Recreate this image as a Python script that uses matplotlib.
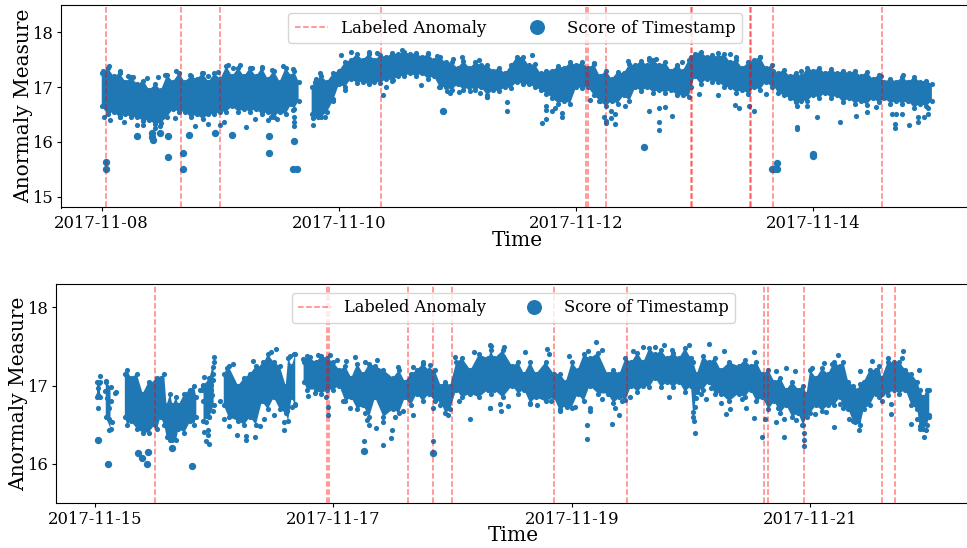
import numpy as np
import matplotlib
matplotlib.use("Agg")
import matplotlib.pyplot as plt
import matplotlib.dates as mdates
from matplotlib.lines import Line2D

# Times are days after the start date of each panel. The cloud of points is too
# dense to read singly, so its core is kept as an envelope
# (inner and outer edge samples); fringe and outlier points are read one by one.
p1_start = "2017-11-08"
p2_start = "2017-11-15"
nan = float("nan")

p1_anomaly = [0.034, 0.671, 1.0, 2.352, 4.087, 4.097, 4.255, 4.966, 4.976, 5.467, 5.477, 5.66, 6.58]
p2_anomaly = [0.503, 1.95, 1.965, 2.628, 2.833, 2.998, 3.851, 4.46, 5.615, 5.646, 5.95, 6.602, 6.713]

p1_band_t = [0.0,0.1,0.2,0.3,0.4,0.5,0.6,0.7,0.8,0.9,1.0,1.1,1.2,1.3,1.4,1.5,1.6,1.66,1.72,
             1.77,1.8,1.9,2.0,2.1,2.2,2.3,2.4,2.5,2.6,2.7,2.8,2.9,3.0,3.1,3.2,3.3,3.4,3.5,3.6,3.7,3.8,3.9,
             4.0,4.1,4.2,4.3,4.4,4.5,4.6,4.7,4.8,4.9,4.97,5.0,5.1,5.2,5.3,5.4,5.5,5.6,5.66,5.7,5.8,5.9,
             6.0,6.1,6.2,6.3,6.4,6.5,6.6,6.7,6.8,6.9,7.0]
p1_band_hi = [17.25,17.2,17.1,17.05,16.95,16.95,17.1,17.1,17.15,17.1,17.15,17.2,17.2,17.2,17.15,17.1,17.2,17.1,nan,
              17.0,17.1,17.1,17.3,17.5,17.5,17.5,17.55,17.6,17.6,17.55,17.5,17.45,17.35,17.35,17.4,17.3,17.25,17.55,17.4,17.25,17.3,17.35,
              17.4,17.35,17.2,17.15,17.25,17.4,17.4,17.4,17.3,17.3,17.55,17.6,17.55,17.55,17.45,17.35,17.5,17.35,17.3,17.25,17.2,17.2,
              17.3,17.25,17.25,17.25,17.2,17.15,17.1,17.1,17.1,17.1,17.05]
p1_band_lo = [16.65,16.55,16.5,16.45,16.4,16.35,16.6,16.55,16.5,16.5,16.55,16.65,16.6,16.6,16.55,16.55,16.7,16.75,nan,
              16.5,16.5,16.55,17.05,17.15,17.1,17.1,17.15,17.2,17.25,17.25,17.2,17.0,17.05,17.0,17.0,16.95,17.0,17.1,17.05,16.95,16.8,16.75,
              17.0,17.0,16.75,16.75,16.85,17.0,17.0,16.95,16.95,16.85,17.0,17.2,17.15,17.1,17.0,16.95,17.0,17.1,17.05,16.9,16.8,16.75,
              16.85,16.9,16.85,16.8,16.75,16.8,16.8,16.75,16.75,16.7,16.75]
p1_edge_t = [0.05,0.15,0.25,0.35,0.45,0.55,0.65,0.75,0.85,0.95,1.05,1.15,1.25,1.35,1.45,1.55,1.62,1.85,1.95,2.05,2.15,2.25,2.35,2.45,2.55,2.65,2.75,2.85,2.95,
             3.05,3.15,3.25,3.35,3.45,3.55,3.65,3.75,3.85,3.95,4.05,4.15,4.25,4.35,4.45,4.55,4.65,4.75,4.85,4.95,5.05,5.15,5.25,5.35,5.45,5.55,5.65,5.75,5.85,5.95,
             6.05,6.15,6.25,6.35,6.45,6.55,6.65,6.75,6.85,6.95]
p1_edge_hi = [17.35,17.25,17.18,17.12,17.05,17.22,17.25,17.2,17.25,17.25,17.38,17.35,17.35,17.35,17.3,17.35,17.3,17.2,17.25,17.45,17.6,17.6,17.58,17.62,17.65,17.62,17.6,17.55,17.45,
              17.48,17.45,17.4,17.35,17.4,17.55,17.42,17.3,17.38,17.45,17.45,17.42,17.3,17.28,17.42,17.48,17.5,17.45,17.4,17.5,17.65,17.58,17.6,17.5,17.45,17.55,17.4,17.32,17.25,17.35,
              17.35,17.33,17.3,17.3,17.28,17.22,17.15,17.18,17.18,17.12]
p1_edge_lo = [16.5,16.45,16.45,16.38,16.32,16.45,16.55,16.45,16.42,16.5,16.55,16.55,16.55,16.5,16.45,16.5,16.6,16.45,16.75,17.0,17.08,17.05,17.08,17.12,17.2,17.2,17.15,17.0,16.95,
              16.95,16.95,16.85,16.92,16.98,17.05,17.0,16.88,16.7,16.7,16.98,16.85,16.65,16.7,16.75,16.92,16.9,16.9,16.85,16.82,17.05,17.1,17.0,16.9,16.88,16.95,17.0,16.85,16.72,16.75,
              16.8,16.8,16.72,16.7,16.68,16.72,16.7,16.7,16.62,16.65]

p1_t = [0.014,0.06,0.155,0.22,0.26,0.38,0.478,0.53,0.627,0.745,0.843,0.894,0.984,1.062,1.11,1.166,1.27,1.35,1.433,1.532,1.61,1.84,1.807,
        0.02,0.188,0.155,0.07,0.35,0.3,0.45,0.49,0.618,0.787,0.9,0.998,1.03,1.217,1.293,1.405,1.425,1.475,1.625,1.625,1.625,1.785,1.785,1.827,1.883,1.616,
        2.965,3.035,3.18,2.02,2.1,2.25,2.325,2.53,2.75,2.825,2.05,1.95,2.37,2.4,2.257,2.46,2.69,2.84,2.91,2.94,3.015,3.105,3.19,3.246,2.88,
        5.866,5.866,6.225,4.70,4.70,4.617,4.81,4.70,4.75,3.716,3.747,3.744,3.744,3.796,3.82,3.885,3.885,3.415,3.415,3.25,4.233,4.25,4.255,4.29,4.29,4.325,4.33,4.41,4.12,4.19,
        5.04,5.2,5.34,5.375,5.455,5.5,5.6,6.03,5.86,5.945,6.36,6.45,6.53,6.665,6.70,6.75,6.69,6.69,6.81,6.886,6.886,6.93,6.965,6.965,
        3.626,4.15,4.44,4.615,4.615,4.67,4.89,4.85,5.9,6.57,6.76,5.55,5.3,5.2,5.35]
p1_v = [17.3,17.38,17.3,17.21,17.18,17.16,17.19,17.23,17.29,17.22,17.26,17.21,17.27,17.4,17.35,17.4,17.35,17.36,17.32,17.38,17.33,17.26,17.15,
        16.46,16.36,16.45,16.39,16.31,16.3,16.25,16.29,16.43,16.29,16.33,16.31,16.36,16.28,16.42,16.39,16.45,16.42,16.46,16.36,16.29,16.31,16.43,16.45,16.45,16.59,
        17.51,17.55,17.49,17.59,17.65,17.65,17.62,17.67,17.62,17.57,16.95,16.78,16.85,17.0,17.07,17.13,17.04,17.01,16.92,16.89,16.91,16.92,16.9,16.82,16.57,
        16.23,16.28,16.36,16.22,16.37,16.57,16.47,16.62,16.63,16.35,16.42,16.59,16.65,16.56,16.62,16.53,16.45,16.57,16.72,16.82,16.46,16.38,16.34,16.57,16.43,16.33,16.51,16.65,16.77,16.74,
        16.88,16.85,16.68,16.62,16.65,16.56,16.87,16.46,16.65,16.66,16.48,16.54,16.63,16.51,16.51,16.5,16.33,16.25,16.31,16.37,16.46,16.45,16.51,16.62,
        17.59,17.44,17.47,17.53,17.5,17.51,17.45,17.38,17.3,17.21,17.23,17.55,17.6,17.62,17.55]
p1_big_t = [0.034,0.034,0.298,0.562,0.562,0.683,0.683,0.739,0.956,1.099,1.414,1.414,1.625,1.616,1.644,0.42,0.425,0.43,0.492,2.88,4.576,5.995,5.995,5.649,5.67,5.695,5.694]
p1_big_v = [15.64,15.5,16.11,16.11,15.73,15.8,15.5,16.13,16.16,16.12,16.11,15.8,16.02,15.5,15.5,16.16,16.08,16.03,16.17,16.57,15.91,15.77,15.74,15.5,15.5,15.5,15.61]

p2_band_t = [0.02,0.045,0.06,0.09,0.13,0.16,0.25,0.3,0.4,0.5,0.55,0.6,0.65,0.7,0.8,0.85,0.87,0.91,0.96,0.995,1.03,1.08,1.2,1.3,1.4,1.5,1.6,1.65,1.7,
             1.75,1.85,1.95,2.05,2.15,2.25,2.35,2.5,2.6,2.7,2.8,2.9,2.98,3.03,3.15,3.3,3.35,3.5,3.6,3.7,3.85,3.95,
             4.05,4.15,4.3,4.4,4.5,4.6,4.7,4.8,4.9,5.0,5.05,5.15,5.25,5.4,5.5,5.6,5.7,5.8,5.9,5.97,
             6.05,6.15,6.25,6.32,6.4,6.45,6.55,6.6,6.7,6.8,6.9,6.95,7.0]
p2_band_hi = [17.05,17.05,nan,17.05,16.98,nan,17.15,17.1,16.9,17.05,17.1,16.75,16.75,16.75,16.95,16.85,nan,17.0,17.1,17.3,nan,17.15,17.0,17.15,17.25,17.3,17.0,17.25,nan,
              17.3,17.3,17.35,17.2,17.1,17.15,17.25,17.1,17.05,17.2,17.2,17.0,17.0,17.3,17.2,17.35,17.35,17.25,17.15,17.15,17.15,17.05,
              17.2,17.35,17.15,17.15,17.3,17.3,17.4,17.35,17.35,17.35,17.15,17.3,17.2,17.25,17.25,17.15,17.05,16.95,16.95,16.9,
              17.1,17.15,17.25,17.05,16.95,17.05,17.2,17.1,17.3,17.2,17.05,16.85,16.95]
p2_band_lo = [16.85,16.85,nan,16.6,16.45,nan,16.6,16.55,16.4,16.5,16.6,16.35,16.3,16.45,16.55,16.6,nan,16.55,16.6,16.75,nan,16.75,16.55,16.6,16.8,16.85,16.65,16.85,nan,
              17.05,16.95,16.95,17.0,16.85,16.75,16.85,16.7,16.85,16.9,16.9,16.8,16.7,16.95,16.9,16.95,16.95,17.0,16.95,16.85,16.85,16.75,
              16.9,17.0,16.9,16.85,17.0,17.0,17.1,17.05,17.05,17.0,16.95,17.05,16.9,16.9,16.95,16.85,16.8,16.75,16.65,16.6,
              16.75,16.75,16.85,16.7,16.55,16.7,16.9,16.9,16.95,16.95,16.7,16.45,16.6]
p2_edge_t = [0.27,0.35,0.45,0.52,0.58,0.63,0.68,0.75,0.83,1.12,1.25,1.35,1.45,1.55,1.62,1.68,1.78,1.9,2.0,2.1,2.2,2.3,2.42,2.55,2.65,2.75,2.85,2.94,
             3.08,3.22,3.32,3.42,3.55,3.65,3.78,3.9,4.0,4.1,4.22,4.35,4.45,4.55,4.65,4.75,4.85,4.95,5.02,5.1,5.2,5.32,5.45,5.55,5.65,5.75,5.85,5.94,
             6.0,6.1,6.2,6.28,6.36,6.42,6.5,6.58,6.65,6.75,6.85,6.92,6.98]
p2_edge_hi = [17.2,17.15,17.05,17.1,17.15,16.9,16.85,16.9,17.0,17.25,17.1,17.25,17.4,17.25,17.35,17.4,17.38,17.38,17.3,17.25,17.28,17.28,17.2,17.2,17.15,17.28,17.2,17.05,
              17.35,17.4,17.45,17.45,17.3,17.3,17.3,17.15,17.3,17.4,17.42,17.2,17.35,17.42,17.48,17.45,17.42,17.48,17.3,17.38,17.35,17.3,17.33,17.3,17.2,17.1,17.05,17.0,
              17.2,17.22,17.3,17.3,17.0,17.02,17.2,17.25,17.3,17.3,17.15,16.95,16.95]
p2_edge_lo = [16.5,16.45,16.4,16.45,16.5,16.3,16.3,16.4,16.5,16.6,16.5,16.5,16.7,16.7,16.55,16.75,16.95,16.9,16.95,16.8,16.7,16.6,16.6,16.65,16.75,16.8,16.8,16.65,
              16.85,16.85,16.9,16.85,16.9,16.78,16.8,16.68,16.72,16.8,16.9,16.78,16.82,16.92,16.98,16.98,16.98,16.92,16.6,16.95,16.9,16.8,16.85,16.8,16.7,16.65,16.6,16.5,
              16.65,16.68,16.75,16.72,16.55,16.5,16.75,16.85,16.88,16.9,16.75,16.45,16.5]

p2_t = [0.03,0.042,0.022,0.022,0.022,0.084,0.092,0.098,0.115,0.117,0.117,0.14,0.13,0.168,0.18,2.26,2.833,
        0.998,0.993,0.914,0.96,0.93,0.95,0.95,0.993,0.942,0.91,0.914,0.97,0.987,0.88,0.965,0.937,0.98,0.93,0.94,0.91,0.975,0.99,0.9,0.955,
        1.082,1.127,1.188,1.267,1.342,1.267,1.384,1.42,1.504,1.586,1.586,1.608,1.65,1.678,1.16,1.105,1.328,1.412,1.477,1.518,1.634,1.67,1.049,
        1.748,1.804,1.874,1.97,2.11,2.18,2.03,1.79,1.846,1.94,1.957,1.957,2.078,2.14,2.265,2.28,2.3,2.357,2.42,2.483,2.49,2.42,2.517,2.587,2.67,2.833,2.964,3.146,3.31,3.05,2.894,
        2.265,2.363,2.54,2.67,2.75,2.81,3.02,3.18,3.31,
        3.32,3.43,3.605,3.79,3.81,3.98,4.2,4.136,4.25,4.513,4.6,4.695,4.77,4.84,4.983,5.15,5.277,5.53,5.71,5.8,5.87,6.02,6.12,6.185,6.23,6.415,6.52,6.65,6.78,6.77,6.91,
        3.31,3.41,3.4,3.465,3.65,3.71,3.83,3.9,3.96,4.03,4.15,4.15,4.13,4.13,4.337,4.4,4.36,4.42,4.25,4.485,4.82,5.03,5.025,5.017,5.03,5.04,5.05,5.087,5.13,5.165,5.25,5.296,5.33,5.43,5.464,5.53,5.55,
        5.6,5.62,5.64,5.71,5.78,5.78,5.73,5.88,5.93,5.948,5.948,5.948,6.045,6.135,6.2,6.25,6.38,6.41,6.33,6.6,6.68,6.68,6.85,6.9,6.92,6.955,6.97,7.0]
p2_v = [17.03,17.12,16.88,16.97,16.72,16.93,17.06,16.84,16.71,16.58,16.43,16.54,16.8,16.91,16.92,16.29,16.29,
        17.37,17.24,16.41,16.25,16.29,16.37,16.43,16.68,16.63,17.01,17.11,17.01,17.07,16.94,16.8,16.71,16.88,16.54,16.86,16.8,16.95,17.15,16.95,16.6,
        16.58,16.49,16.37,16.36,16.34,16.3,16.49,16.58,16.63,16.43,16.54,16.67,16.73,16.77,17.28,17.23,17.31,17.3,17.43,17.47,17.38,17.41,16.8,
        17.34,17.37,17.39,17.39,17.31,17.37,17.33,16.87,16.91,16.86,16.63,16.73,16.8,16.71,16.65,16.56,16.5,16.46,16.54,16.33,16.43,16.24,16.6,16.67,16.63,16.72,16.63,16.57,16.72,16.8,16.75,
        17.3,17.33,17.24,17.24,17.3,17.27,17.37,17.43,17.52,
        17.51,17.5,17.43,17.47,17.4,17.38,17.56,17.44,17.46,17.44,17.49,17.5,17.52,17.46,17.52,17.53,17.44,17.43,17.19,17.23,17.19,17.23,17.29,17.28,17.39,17.19,17.31,17.36,17.44,17.35,17.2,
        16.72,16.68,16.77,16.74,16.77,16.75,16.8,16.7,16.73,16.73,16.67,16.72,16.5,16.32,16.51,16.63,16.71,16.8,16.83,16.85,16.85,16.39,16.55,16.66,16.73,16.84,16.92,16.89,16.83,16.97,16.78,16.64,16.7,16.83,16.72,16.59,16.93,
        16.34,16.57,16.82,16.54,16.57,16.35,16.71,16.56,16.5,16.39,16.3,16.23,16.64,16.66,16.47,16.77,16.53,16.43,16.57,16.8,16.77,16.64,16.51,16.58,16.48,16.34,16.43,16.63]
p2_big_t = [0.022,0.112,2.26,2.833,0.814,0.44,0.447,0.39,0.364,0.65]
p2_big_v = [16.30,16.0,16.17,16.14,15.97,16.0,16.15,16.08,16.14,16.2]

xlabel = "Time"
ylabel = "Anormaly Measure"
legend_labels = ["Labeled Anomaly", "Score of Timestamp"]

plt.rcParams["font.family"] = "DejaVu Serif"
BLUE = "#1f77b4"
W, H = 967, 548
fig = plt.figure(figsize=(W / 100, H / 100), dpi=100)


def panel(box, start, xlim, ylim, yticks, anomalies, bt, bhi, blo, et, ehi, elo, t, v, bigt, bigv,
          pad_x, leg_anchor, leg_size):
    l, top, r, bot = box
    ax = fig.add_axes([l / W, 1 - bot / H, (r - l) / W, (bot - top) / H])
    t0 = mdates.date2num(np.datetime64(start))
    tt = np.array(bt + et)
    order = np.argsort(tt, kind="stable")
    tt = tt[order] + t0
    hi = np.array(bhi + ehi)[order]
    lo = np.array(blo + elo)[order]
    ax.fill_between(tt, lo, hi, color=BLUE, lw=0, zorder=2)
    ax.scatter(tt, hi, s=14, color=BLUE, lw=0, zorder=2)
    ax.scatter(tt, lo, s=14, color=BLUE, lw=0, zorder=2)
    ax.scatter(np.array(t) + t0, v, s=14, color=BLUE, lw=0, zorder=2)
    ax.scatter(np.array(bigt) + t0, bigv, s=28, color=BLUE, lw=0, zorder=2)
    for a in anomalies:
        ax.axvline(a + t0, color="red", ls="--", lw=1.1, alpha=0.5, zorder=3)
    ax.set_xlim(xlim[0] + t0, xlim[1] + t0)
    ax.set_ylim(*ylim)
    ax.set_yticks(yticks)
    ax.set_xticks(t0 + np.arange(0, 7, 2))
    ax.xaxis.set_major_formatter(mdates.DateFormatter("%Y-%m-%d"))
    ax.tick_params(labelsize=11.8, length=3, width=0.8, pad=2.5)
    ax.set_xlabel(xlabel, fontsize=14.5, labelpad=pad_x)
    ax.set_ylabel(ylabel, fontsize=14.5, labelpad=-1)
    handles = [
        Line2D([], [], color="red", ls="--", lw=1.1, alpha=0.5),
        Line2D([], [], color=BLUE, ls="", marker="o", ms=10.8, mew=0),
    ]
    ax.legend(handles, legend_labels, ncol=2, loc="upper center", bbox_to_anchor=leg_anchor,
              fontsize=leg_size, frameon=True, framealpha=0.8, borderaxespad=0, columnspacing=2.0)
    return ax


panel((60.7, 5, 973.4, 207.5), p1_start, (-0.346, 7.35), (14.8, 18.5), [15, 16, 17, 18], p1_anomaly,
      p1_band_t, p1_band_hi, p1_band_lo, p1_edge_t, p1_edge_hi, p1_edge_lo,
      p1_t, p1_v, p1_big_t, p1_big_v, -1, (0.4978, 0.96), 12.0)
panel((55.7, 284, 971, 503), p2_start, (-0.33, 7.35), (15.5, 18.3), [16, 17, 18], p2_anomaly,
      p2_band_t, p2_band_hi, p2_band_lo, p2_edge_t, p2_edge_hi, p2_edge_lo,
      p2_t, p2_v, p2_big_t, p2_big_v, -1, (0.5, 0.96), 11.7)

fig.savefig("out.png", dpi=100)
